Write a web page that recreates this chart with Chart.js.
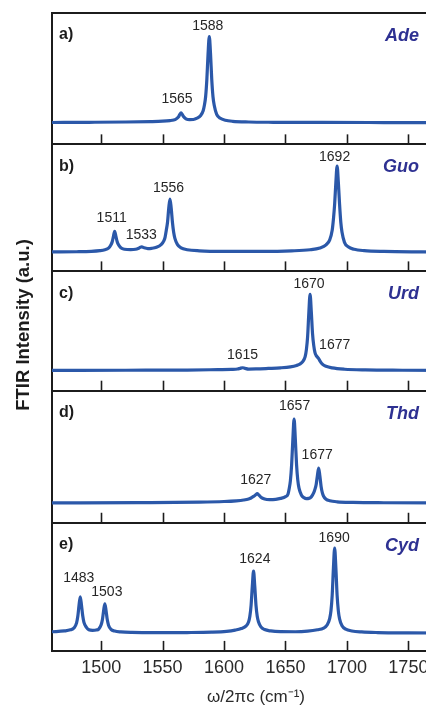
<!DOCTYPE html>
<html>
<head>
<meta charset="utf-8">
<script src="https://cdn.jsdelivr.net/npm/chart.js@4.4.1/dist/chart.umd.min.js"></script>
<style>
  html, body { margin: 0; padding: 0; background: #fff; overflow: hidden; }
  #wrap { width: 426px; height: 706px; overflow: hidden; }
</style>
</head>
<body>
<div id="wrap"><canvas id="ftir" width="460" height="706"></canvas></div>
<script>
// wavenumber (cm-1) and intensity (a.u.), one pair of arrays per panel
const adeNu = [1460,1490,1520,1540,1550,1556,1559,1561,1563,1564,1565,1566,1567,1569,1572,1575,1578,1581,1583,1584,1585,1586,1587,1588,1589,1590,1591,1592,1594,1597,1601,1607,1620,1640,1680,1730,1792];
const adeI  = [0.3,0.5,0.8,1.2,1.6,2.2,2.8,3.8,6,8.3,9.8,8.4,6.2,4,3.2,3.3,4.6,7.3,12,17.5,26,43,69,86,69,43,26,17.5,8.5,4.5,2.6,1.5,0.8,0.5,0.35,0.25,0.2];

const guoNu = [1460,1480,1492,1499,1503,1506,1508,1509,1510,1511,1512,1513,1514,1516,1519,1524,1528,1531,1533,1535,1538,1541,1545,1549,1551,1552,1553,1554,1555,1556,1557,1558,1559,1560,1562,1565,1570,1580,1600,1630,1655,1670,1678,1683,1686,1688,1689,1690,1691,1692,1693,1694,1695,1696,1698,1701,1706,1714,1730,1760,1792];
const guoI  = [0.4,0.6,1.0,1.7,2.6,4.2,7.5,10.5,16,21,16,10.8,7.8,4.6,3.1,2.7,3.1,4.4,5.5,4.5,3.8,4,5,8,11.5,15,22,30,44,53,44,30,20,14,8,4.5,2.6,1.5,1.0,1.0,1.5,2.6,4.4,7.5,12.5,22,33,48,70,86,70,48,30,20,10,5.5,3,1.7,0.9,0.5,0.3];

const urdNu = [1460,1520,1570,1595,1606,1611,1613,1615,1617,1620,1626,1636,1646,1654,1659,1662,1664,1666,1667,1668,1669,1670,1671,1672,1673,1674,1675,1676,1677,1678,1680,1683,1688,1698,1715,1745,1792];
const urdI  = [0.2,0.4,0.6,1.0,1.2,1.6,2.3,2.9,2.3,1.6,1.7,2.2,2.8,3.8,5.2,6.8,9,14,21,34,58,76,59,37,25,18,15,13.5,12,9.8,6.5,4.3,2.7,1.4,0.7,0.4,0.2];

const thdNu = [1460,1530,1580,1600,1610,1616,1620,1622,1624,1626,1627,1628,1630,1633,1637,1642,1646,1650,1652,1653,1654,1655,1656,1657,1658,1659,1660,1661,1663,1665,1667,1669,1671,1673,1674,1675,1676,1677,1678,1679,1680,1681,1683,1686,1692,1705,1730,1792];
const thdI  = [0.3,0.6,1.1,1.7,2.4,3.2,4.2,5.2,6.8,8.6,9.5,8.6,6,4.2,3.6,3.9,4.8,6.5,9,14.5,22.5,38.5,64,84,64,38.5,23,15,8,5.6,4.6,4.8,6.3,10.5,14,19,28,35,27,16.5,10.3,7,4,2.5,1.4,0.8,0.45,0.2];

const cydNu = [1460,1470,1475,1478,1480,1481,1482,1483,1484,1485,1486,1488,1490,1493,1496,1498,1500,1501,1502,1503,1504,1505,1506,1508,1511,1516,1525,1545,1570,1590,1602,1609,1614,1618,1620,1621,1622,1623,1624,1625,1626,1627,1628,1630,1633,1638,1646,1658,1668,1676,1681,1684,1686,1687,1688,1689,1690,1691,1692,1693,1694,1696,1699,1704,1712,1725,1750,1792];
const cydI  = [1.6,2.4,3.5,5.5,10.5,17,28,36.5,28,17.5,11,6,3.6,3,3.3,4.3,8.5,13.5,22.5,29.5,22.5,13.5,8.2,4,2.3,1.4,0.9,0.7,0.8,1.2,2,3.2,4.8,7.5,11.5,17,28,47,62,47,28,17,11.5,6.5,3.8,2.4,1.7,1.6,2.2,3.6,5.2,8.5,15,22.5,38,65,85,65,38,22.5,14.5,7.5,4.2,2.4,1.4,0.8,0.45,0.3];

// labelled peaks
const adePeaks = [1565, 1588];
const guoPeaks = [1511, 1533, 1556, 1692];
const urdPeaks = [1615, 1670, 1677];
const thdPeaks = [1627, 1657, 1677];
const cydPeaks = [1483, 1503, 1624, 1690];

const panelTags = ['a)', 'b)', 'c)', 'd)', 'e)'];
const molecules = ['Ade', 'Guo', 'Urd', 'Thd', 'Cyd'];
const xTicks = [1500, 1550, 1600, 1650, 1700, 1750];

// ---- styling ----
const FONT = '"Liberation Sans", Arial, Helvetica, sans-serif';
const INK = '#1c1c1c';
const LINE_BLUE = '#2b58a9';
const NAME_BLUE = '#2e3192';

// label nudges in px [dx, dy] relative to the peak point
const labelNudge = [
  [[-4, -13.5], [-1.5, -10.5]],
  [[-3, -13], [-0.5, -12], [-1.5, -11], [-2.5, -9]],
  [[0, -13], [-1, -10.5], [16, -13]],
  [[-1.5, -14], [0.5, -13], [-1.5, -12.5]],
  [[-1.5, -18.5], [2, -11.5], [1.3, -12.5], [-0.5, -10]]
];

const panels = [
  { id: 'ya', nu: adeNu, inten: adeI, peaks: adePeaks, min: -21.5, max: 109.5 },
  { id: 'yb', nu: guoNu, inten: guoI, peaks: guoPeaks, min: -19, max: 107.7 },
  { id: 'yc', nu: urdNu, inten: urdI, peaks: urdPeaks, min: -20, max: 99 },
  { id: 'yd', nu: thdNu, inten: thdI, peaks: thdPeaks, min: -19.5, max: 112.2 },
  { id: 'ye', nu: cydNu, inten: cydI, peaks: cydPeaks, min: -17.5, max: 110.3 }
];

const datasets = panels.map(p => ({
  data: p.nu.map((v, i) => ({ x: v, y: p.inten[i] })),
  yAxisID: p.id,
  borderColor: LINE_BLUE,
  borderWidth: 3.2,
  pointRadius: 0,
  fill: false,
  cubicInterpolationMode: 'monotone',
  borderJoinStyle: 'round',
  borderCapStyle: 'round'
}));

const scales = {
  x: {
    type: 'linear',
    min: 1460,
    max: 1792,
    afterBuildTicks: s => { s.ticks = xTicks.map(v => ({ value: v })); },
    grid: { display: false, drawTicks: false },
    border: { display: true, color: INK, width: 2 },
    ticks: {
      font: { family: FONT, size: 18 },
      color: '#2a2a2a',
      padding: 6,
      callback: v => String(v)
    },
    title: {
      display: true,
      text: 'ω/2πc (cm⁻¹)',
      font: { family: FONT, size: 17, lineHeight: 1 },
      color: '#2a2a2a',
      padding: { top: 4.5, bottom: 0 }
    }
  }
};

// stacked axes are laid out bottom-up, so declare the bottom panel first
panels.slice().reverse().forEach(p => {
  scales[p.id] = {
    type: 'linear',
    position: 'left',
    stack: 'spectra',
    stackWeight: p.max - p.min,
    min: p.min,
    max: p.max,
    afterBuildTicks: s => { s.ticks = [{ value: s.min }, { value: s.max }]; },
    ticks: { display: false },
    grid: { drawTicks: false, color: INK, lineWidth: 2 },
    border: { display: true, color: INK, width: 2 }
  };
});

// inner tick marks, panel tags, names and peak labels
const decorations = {
  id: 'decorations',
  afterDraw(chart) {
    const ctx = chart.ctx;
    const xs = chart.scales.x;
    const area = chart.chartArea;
    ctx.save();

    panels.forEach((p, k) => {
      const ys = chart.scales[p.id];

      ctx.strokeStyle = INK;
      ctx.lineWidth = 1.6;
      xTicks.forEach(v => {
        const px = Math.round(xs.getPixelForValue(v)) + 0.5;
        ctx.beginPath();
        ctx.moveTo(px, ys.bottom);
        ctx.lineTo(px, ys.bottom - 10);
        ctx.stroke();
      });

      ctx.textBaseline = 'middle';
      ctx.fillStyle = INK;
      ctx.textAlign = 'left';
      ctx.font = 'bold 16px ' + FONT;
      ctx.fillText(panelTags[k], area.left + 7, ys.top + 22);

      ctx.fillStyle = NAME_BLUE;
      ctx.textAlign = 'right';
      ctx.font = 'italic bold 18px ' + FONT;
      ctx.fillText(molecules[k], 419, ys.top + 23);

      ctx.fillStyle = '#262626';
      ctx.textAlign = 'center';
      ctx.font = '14px ' + FONT;
      p.peaks.forEach((pk, j) => {
        const y = p.inten[p.nu.indexOf(pk)];
        const [dx, dy] = labelNudge[k][j];
        ctx.fillText(String(pk), xs.getPixelForValue(pk) + dx, ys.getPixelForValue(y) + dy);
      });
    });

    // shared y title
    ctx.translate(24, 325);
    ctx.rotate(-Math.PI / 2);
    ctx.fillStyle = INK;
    ctx.textAlign = 'center';
    ctx.textBaseline = 'middle';
    ctx.font = 'bold 18.5px ' + FONT;
    ctx.fillText('FTIR Intensity (a.u.)', 0, 0);
    ctx.restore();
  }
};

new Chart(document.getElementById('ftir'), {
  type: 'line',
  data: { datasets: datasets },
  options: {
    responsive: false,
    animation: false,
    layout: { padding: { left: 52, top: 13, right: 0, bottom: 0 } },
    plugins: { legend: { display: false }, tooltip: { enabled: false } },
    scales: scales
  },
  plugins: [decorations]
});
</script>
</body>
</html>
